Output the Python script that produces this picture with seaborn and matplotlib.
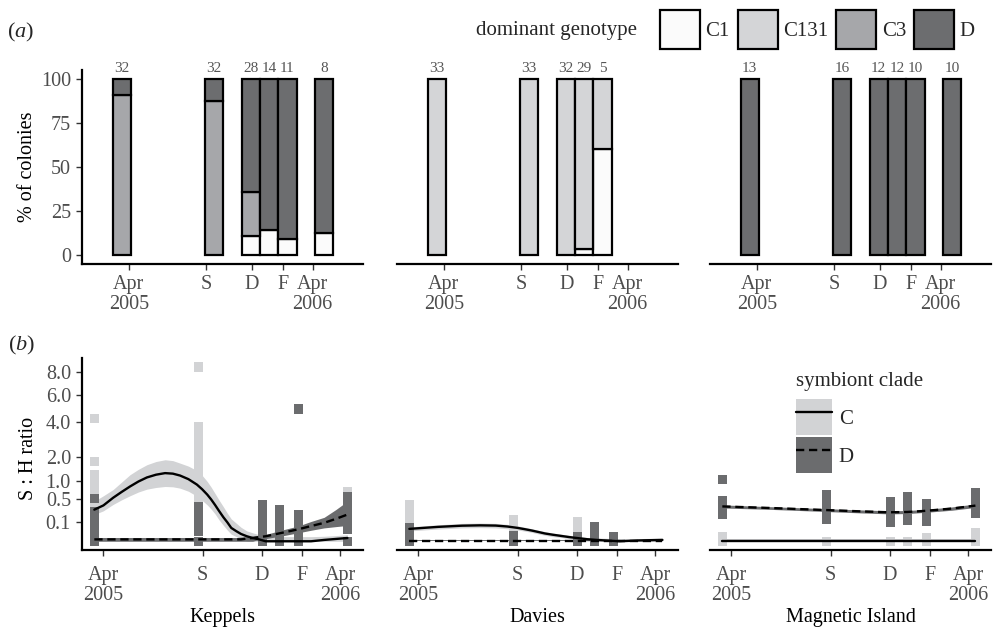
import numpy as np
import pandas as pd
import matplotlib
matplotlib.use("Agg")
import matplotlib.pyplot as plt
from matplotlib.patches import Patch
from matplotlib.lines import Line2D
from matplotlib.legend_handler import HandlerTuple
import seaborn as sns

# day 0 of both time axes
ORIGIN = pd.Timestamp("2005-04-01")

SITES = ["Keppels", "Davies", "Magnetic Island"]

# ---- (a) dominant genotype, % of colonies --------------------------------
GENOTYPES = ["C1", "C131", "C3", "D"]
GENO_COLORS = ["#fbfbfb", "#d4d5d7", "#a6a7aa", "#6c6d6f"]
BAR_DATES = ["2005-03-18", "2005-09-17", "2005-11-29",
             "2006-01-04", "2006-02-10", "2006-04-24"]

KEP_C1 = [0, 0, 10.7, 14.3, 9.1, 12.5]
KEP_C131 = [0, 0, 0, 0, 0, 0]
KEP_C3 = [90.6, 87.5, 25.0, 0, 0, 0]
KEP_D = [9.4, 12.5, 64.3, 85.7, 90.9, 87.5]
KEP_N = [32, 32, 28, 14, 11, 8]

DAV_C1 = [0, 0, 0, 3.4, 60.0, 0]
DAV_C131 = [100, 100, 100, 96.6, 40.0, 0]
DAV_C3 = [0, 0, 0, 0, 0, 0]
DAV_D = [0, 0, 0, 0, 0, 0]
DAV_N = [33, 33, 32, 29, 5, None]

MAG_C1 = [0, 0, 0, 0, 0, 0]
MAG_C131 = [0, 0, 0, 0, 0, 0]
MAG_C3 = [0, 0, 0, 0, 0, 0]
MAG_D = [100, 100, 100, 100, 100, 100]
MAG_N = [13, 16, 12, 12, 10, 10]

TICK_DATES = ["2005-04-01", "2005-09-01", "2005-12-01", "2006-02-01", "2006-04-01"]
TICK_LABELS = ["Apr\n2005", "S", "D", "F", "Apr\n2006"]

# ---- (b) symbiont : host ratio per colony ---------------------------------
CLADE_COLORS = {"C": "#d2d3d5", "D": "#6b6c6e"}
SAMPLE_DATES = ["2005-03-18", "2005-08-26", "2005-12-02",
                "2005-12-28", "2006-01-27", "2006-04-12"]

KEP_C_RATIO = [
    [4.2, 1.78, 1.25, 1.15, 1.0, 0.85, 0.75, 0.6, 0.5, 0.45, 0.3, 0.2, 0.0],
    [8.5, 3.7, 3.3, 3.1, 2.6, 2.2, 1.9, 1.65, 1.4, 1.2, 1.0, 0.8, 0.6, 0.45, 0.0],
    [0.0, 0.0, 0.003],
    [0.0, 0.0],
    [0.0, 0.004],
    [0.68, 0.6, 0.06, 0.045, 0.0],
]
KEP_D_RATIO = [
    [0.52, 0.25, 0.22, 0.1, 0.08, 0.05, 0.03, 0.01, 0.0, 0.0, 0.0],
    [0.34, 0.3, 0.17, 0.12, 0.05, 0.03, 0.0, 0.0, 0.0],
    [0.38, 0.33, 0.28, 0.22, 0.18, 0.14, 0.1, 0.08, 0.06, 0.04, 0.03, 0.02,
     0.01, 0.005, 0.0, 0.0],
    [0.28, 0.25, 0.2, 0.15, 0.11, 0.08, 0.065, 0.04, 0.02, 0.01, 0.0],
    [4.9, 0.2, 0.17, 0.14, 0.11, 0.09, 0.07, 0.05, 0.035, 0.02, 0.01, 0.0],
    [0.55, 0.48, 0.42, 0.36, 0.31, 0.26, 0.21, 0.17, 0.13, 0.09, 0.06, 0.04, 0.0],
]
DAV_C_RATIO = [
    [0.37, 0.33, 0.28, 0.23, 0.19, 0.15, 0.12, 0.09, 0.07, 0.05, 0.03],
    [0.13, 0.11, 0.09, 0.07, 0.05, 0.035, 0.02],
    [0.105, 0.09, 0.075, 0.06, 0.045, 0.03, 0.02],
    [0.045, 0.03, 0.015],
    [0.004],
    [],
]
DAV_D_RATIO = [
    [0.05, 0.035, 0.02, 0.01, 0.0, 0.0, 0.0],
    [0.008, 0.0, 0.0, 0.0],
    [0.006, 0.0, 0.0, 0.0],
    [0.062, 0.05, 0.038, 0.025, 0.012, 0.004, 0.0],
    [0.006, 0.0, 0.0],
    [],
]
MAG_C_RATIO = [
    [0.005, 0.0, 0.0],
    [0.0, 0.0],
    [0.0, 0.0],
    [0.0, 0.0],
    [0.003, 0.0],
    [0.02, 0.0, 0.0],
]
MAG_D_RATIO = [
    [1.06, 0.47, 0.42, 0.38, 0.35, 0.32, 0.28, 0.24, 0.2],
    [0.6, 0.52, 0.45, 0.38, 0.33, 0.28, 0.23, 0.18, 0.13],
    [0.45, 0.38, 0.31, 0.26, 0.21, 0.17, 0.13, 0.1],
    [0.55, 0.37, 0.31, 0.26, 0.21, 0.16, 0.12],
    [0.4, 0.34, 0.28, 0.23, 0.18, 0.14, 0.11],
    [0.65, 0.56, 0.49, 0.43, 0.37, 0.31, 0.26, 0.21],
]

# smoother (fit + 95% band), days after 1 Apr 2005
KEP_FIT_DAY = [-14, 0, 15, 28, 41, 54, 67, 81, 95, 107, 118, 131, 144, 152,
               160, 166, 172, 178, 185, 191, 197, 205, 212, 221, 230, 240,
               250, 275, 300, 320, 340, 358, 376]
KEP_C_FIT = [0.28, 0.36, 0.53, 0.68, 0.84, 1.0, 1.14, 1.24, 1.30, 1.28, 1.21,
             1.08, 0.90, 0.76, 0.61, 0.49, 0.37, 0.26, 0.16, 0.10, 0.05, 0.028,
             0.015, 0.007, 0.003, 0.001, 0.0, 0.0, 0.0, 0.0, 0.0005, 0.0015,
             0.003]
KEP_C_LO = [0.20, 0.26, 0.38, 0.48, 0.58, 0.68, 0.76, 0.81, 0.84, 0.83, 0.79,
            0.70, 0.57, 0.47, 0.37, 0.29, 0.21, 0.13, 0.07, 0.035, 0.014,
            0.006, 0.002, 0.0, 0.0, 0.0, 0.0, 0.0, 0.0, 0.0, 0.0, 0.0, 0.0]
KEP_C_HI = [0.45, 0.58, 0.75, 0.98, 1.24, 1.45, 1.64, 1.78, 1.86, 1.82, 1.71,
            1.58, 1.40, 1.22, 1.0, 0.82, 0.64, 0.48, 0.33, 0.22, 0.14, 0.09,
            0.055, 0.03, 0.02, 0.012, 0.008, 0.006, 0.006, 0.006, 0.007,
            0.009, 0.012]
KEP_D_FIT = [0.001, 0.001, 0.001, 0.001, 0.001, 0.001, 0.001, 0.001, 0.001,
             0.001, 0.001, 0.001, 0.001, 0.001, 0.001, 0.001, 0.001, 0.001,
             0.001, 0.001, 0.001, 0.001, 0.001, 0.002, 0.003, 0.005, 0.007,
             0.02, 0.04, 0.065, 0.095, 0.14, 0.2]
KEP_D_LO = [0.0, 0.0, 0.0, 0.0, 0.0, 0.0, 0.0, 0.0, 0.0, 0.0, 0.0, 0.0, 0.0,
            0.0, 0.0, 0.0, 0.0, 0.0, 0.0, 0.0, 0.0, 0.0, 0.0, 0.0, 0.0, 0.001,
            0.002, 0.008, 0.02, 0.034, 0.05, 0.06, 0.07]
KEP_D_HI = [0.004, 0.004, 0.004, 0.004, 0.004, 0.004, 0.004, 0.004, 0.004,
            0.004, 0.004, 0.004, 0.004, 0.004, 0.004, 0.004, 0.004, 0.004,
            0.004, 0.004, 0.004, 0.004, 0.005, 0.006, 0.007, 0.01, 0.013,
            0.035, 0.065, 0.11, 0.16, 0.28, 0.45]

DAV_FIT_DAY = [-14, 30, 67, 95, 119, 137, 153, 165, 175, 185, 195, 207, 220,
               232, 244, 260, 275, 310, 340, 376]
DAV_C_FIT = [0.043, 0.058, 0.068, 0.071, 0.069, 0.061, 0.05, 0.04, 0.032,
             0.024, 0.017, 0.012, 0.008, 0.005, 0.003, 0.0012, 0.0005, 0.0,
             0.0002, 0.0005]
DAV_C_LO = [0.03, 0.042, 0.05, 0.052, 0.05, 0.044, 0.036, 0.028, 0.022,
            0.015, 0.01, 0.006, 0.004, 0.002, 0.001, 0.0, 0.0, 0.0, 0.0, 0.0]
DAV_C_HI = [0.058, 0.076, 0.09, 0.093, 0.09, 0.08, 0.066, 0.054, 0.044,
            0.034, 0.026, 0.019, 0.014, 0.01, 0.007, 0.004, 0.003, 0.002,
            0.002, 0.003]
DAV_D_FIT = [0.0] * 20
DAV_D_LO = [0.0] * 20
DAV_D_HI = [0.0005] * 20

MAG_FIT_DAY = [-14, 60, 152, 200, 243, 271, 300, 340, 376]
MAG_C_FIT = [0.0, 0.0, 0.0, 0.0, 0.0, 0.0, 0.0, 0.0, 0.0]
MAG_C_LO = [0.0, 0.0, 0.0, 0.0, 0.0, 0.0, 0.0, 0.0, 0.0]
MAG_C_HI = [0.001, 0.001, 0.001, 0.001, 0.001, 0.001, 0.001, 0.001, 0.001]
MAG_D_FIT = [0.34, 0.31, 0.27, 0.25, 0.235, 0.24, 0.26, 0.30, 0.356]
MAG_D_LO = [0.31, 0.285, 0.245, 0.225, 0.21, 0.215, 0.235, 0.27, 0.32]
MAG_D_HI = [0.37, 0.335, 0.295, 0.275, 0.26, 0.265, 0.285, 0.33, 0.39]

RATIO_TICKS = [0.1, 0.5, 1.0, 2.0, 4.0, 6.0, 8.0]

W, H = 993, 629
TEXT_GREY = "#4d4d4d"
DASHED = (0, (3.5, 2.0))


def to_days(dates):
    return np.asarray((pd.to_datetime(dates) - ORIGIN).days, dtype=float)


def _sqrt_fwd(v):
    v = np.asarray(v, dtype=float)
    return np.sign(v) * np.sqrt(np.abs(v))


def _sqrt_inv(v):
    v = np.asarray(v, dtype=float)
    return np.sign(v) * v ** 2


def style_axes(ax, show_y, xpad):
    sns.despine(ax=ax, left=not show_y)
    for side in ("left", "bottom"):
        ax.spines[side].set_linewidth(1.6)
        ax.spines[side].set_color("black")
    ax.tick_params(axis="both", length=4, width=1.0, color="#333333",
                   labelcolor=TEXT_GREY, labelsize=14.5)
    ax.tick_params(axis="y", pad=4)
    ax.tick_params(axis="x", pad=xpad)
    if not show_y:
        ax.tick_params(axis="y", left=False, labelleft=False)
    ax.set_xticks(to_days(TICK_DATES))
    ax.set_xticklabels(TICK_LABELS, linespacing=1.05)
    ax.set_facecolor("white")


sns.set_theme(style="ticks")
plt.rcParams["font.family"] = ["Liberation Serif", "DejaVu Serif"]
plt.rcParams["mathtext.fontset"] = "custom"
plt.rcParams["mathtext.rm"] = "Liberation Serif"
plt.rcParams["mathtext.it"] = "Liberation Serif:italic"

fig = plt.figure(figsize=(W / 100, H / 100), dpi=100)
lefts = [82, 397, 710]
top_axes = [fig.add_axes([l / W, 1 - 264 / H, 281 / W, 194 / H]) for l in lefts]
bot_axes = [fig.add_axes([l / W, 1 - 550 / H, 281 / W, 192 / H]) for l in lefts]

# ---------------- (a) stacked bars ----------------
bar_pct = [
    [KEP_C1, KEP_C131, KEP_C3, KEP_D],
    [DAV_C1, DAV_C131, DAV_C3, DAV_D],
    [MAG_C1, MAG_C131, MAG_C3, MAG_D],
]
bar_n = [KEP_N, DAV_N, MAG_N]
bar_days = to_days(BAR_DATES)

for i, ax in enumerate(top_axes):
    base = np.zeros(len(bar_days))
    for pct, col in zip(bar_pct[i], GENO_COLORS):
        h = np.asarray(pct, dtype=float)
        keep = h > 0
        bars = ax.bar(bar_days[keep], h[keep], bottom=base[keep], width=36,
                      color=col, edgecolor="black", linewidth=1.6, zorder=2)
        for b in bars:
            b.set_joinstyle("miter")
        base += h
    for d, n in zip(bar_days, bar_n[i]):
        if n:
            ax.text(d, 102.3, str(n), ha="center", va="bottom", fontsize=11,
                    color="#555555")
    ax.set_xlim(-93, 465)
    ax.set_ylim(-5, 105)
    ax.set_yticks([0, 25, 50, 75, 100])
    style_axes(ax, show_y=(i == 0), xpad=4)

top_axes[0].set_ylabel("% of colonies", fontsize=14.5, color="black")
top_axes[0].yaxis.set_label_coords(-0.16, 0.5)

# ---------------- (b) S:H ratio ----------------
ratio_pts = [
    (KEP_C_RATIO, KEP_D_RATIO),
    (DAV_C_RATIO, DAV_D_RATIO),
    (MAG_C_RATIO, MAG_D_RATIO),
]
fits = [
    (KEP_FIT_DAY, (KEP_C_FIT, KEP_C_LO, KEP_C_HI), (KEP_D_FIT, KEP_D_LO, KEP_D_HI)),
    (DAV_FIT_DAY, (DAV_C_FIT, DAV_C_LO, DAV_C_HI), (DAV_D_FIT, DAV_D_LO, DAV_D_HI)),
    (MAG_FIT_DAY, (MAG_C_FIT, MAG_C_LO, MAG_C_HI), (MAG_D_FIT, MAG_D_LO, MAG_D_HI)),
]
sample_days = to_days(SAMPLE_DATES)

for i, ax in enumerate(bot_axes):
    ax.set_yscale("function", functions=(_sqrt_fwd, _sqrt_inv))

    rows = []
    for clade, per_date in zip(["C", "D"], ratio_pts[i]):
        for d, vals in zip(sample_days, per_date):
            rows += [{"clade": clade, "day": d, "ratio": v} for v in vals]
    pts = pd.DataFrame(rows)

    fit_day, c_fit, d_fit = fits[i]
    for clade, (fit, lo, hi) in zip(["C", "D"], [c_fit, d_fit]):
        ax.fill_between(fit_day, lo, hi, color=CLADE_COLORS[clade], lw=0,
                        zorder=1)

    sns.scatterplot(data=pts, x="day", y="ratio", hue="clade",
                    palette=CLADE_COLORS, marker="s", s=44, linewidth=0,
                    legend=False, ax=ax, zorder=2)

    for clade, (fit, lo, hi) in zip(["C", "D"], [c_fit, d_fit]):
        sns.lineplot(x=fit_day, y=fit, ax=ax, color="black", lw=1.7,
                     linestyle="-" if clade == "C" else DASHED, zorder=3)

    ax.set_xlim(-33, 400)
    ax.set_ylim(-0.0213, 9.4)
    ax.set_yticks(RATIO_TICKS)
    ax.set_yticklabels([f"{t:.1f}" for t in RATIO_TICKS])
    style_axes(ax, show_y=(i == 0), xpad=7.5)
    ax.set_ylabel("")
    ax.set_xlabel(SITES[i], fontsize=14.5, color="black")
    ax.xaxis.set_label_coords(0.5, -0.3)

bot_axes[0].set_ylabel("S : H ratio", fontsize=14.5, color="black")
bot_axes[0].yaxis.set_label_coords(-0.155, 0.475)

# ---------------- panel letters and legends ----------------
fig.text(7 / W, 1 - 32 / H, "($\\mathit{a}$)", ha="left", va="center", fontsize=16)
fig.text(8 / W, 1 - 345 / H, "($\\mathit{b}$)", ha="left", va="center", fontsize=16)

fig.text(476 / W, 1 - 30 / H, "dominant genotype", ha="left", va="center",
         fontsize=15)
geno_handles = [Patch(facecolor=c, edgecolor="black", linewidth=1.6)
                for c in GENO_COLORS]
fig.legend(geno_handles, GENOTYPES, loc="center left",
           bbox_to_anchor=(660 / W, 1 - 29.5 / H), ncol=4, frameon=False,
           handlelength=1.92, handleheight=2.5, handletextpad=0.25,
           columnspacing=0.4, borderpad=0, borderaxespad=0, fontsize=15)

clade_handles = [
    (Patch(facecolor=CLADE_COLORS["C"], edgecolor="none"),
     Line2D([], [], color="black", lw=1.7)),
    (Patch(facecolor=CLADE_COLORS["D"], edgecolor="none"),
     Line2D([], [], color="black", lw=1.7, linestyle=DASHED)),
]
leg = fig.legend(clade_handles, ["C", "D"], title="symbiont clade",
                 loc="upper left", bbox_to_anchor=(796 / W, 1 - 372 / H),
                 frameon=False, handlelength=1.75, handleheight=2.28,
                 handletextpad=0.3, labelspacing=0.1, borderpad=0,
                 borderaxespad=0, alignment="left", fontsize=15,
                 title_fontsize=15, handler_map={tuple: HandlerTuple(ndivide=1)})
leg._legend_box.sep = 6

fig.savefig("out.png", dpi=100)
